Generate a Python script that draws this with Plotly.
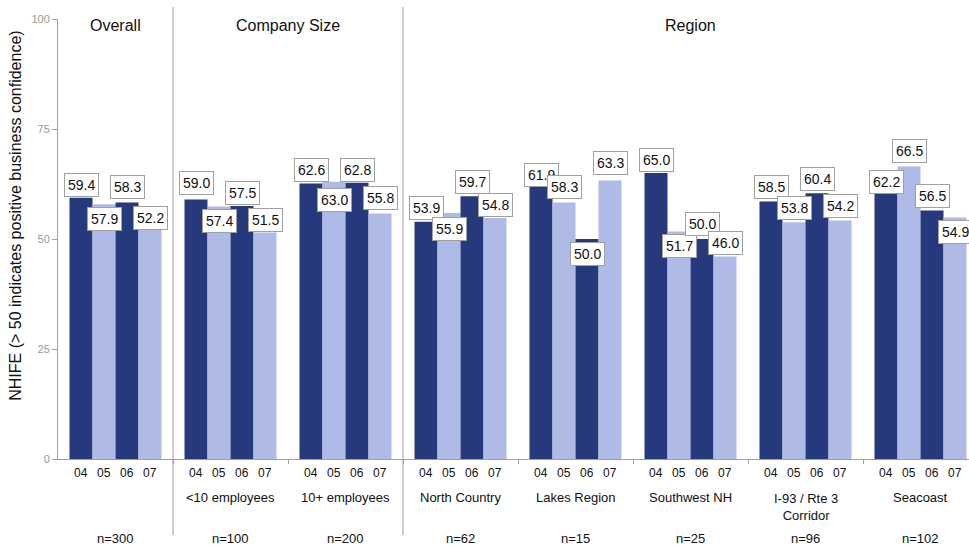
import plotly.graph_objects as go

# ---------------- data ----------------
years = ["04", "05", "06", "07"]
groups = ["", "<10 employees", "10+ employees", "North Country", "Lakes Region",
          "Southwest NH", "I-93 / Rte 3<br>Corridor", "Seacoast"]
sample_sizes = ["n=300", "n=100", "n=200", "n=62", "n=15", "n=25", "n=96", "n=102"]
sections = ["Overall", "Company Size", "Region"]

v04 = [59.4, 59.0, 62.6, 53.9, 61.9, 65.0, 58.5, 62.2]
v05 = [57.9, 57.4, 63.0, 55.9, 58.3, 51.7, 53.8, 66.5]
v06 = [58.3, 57.5, 62.8, 59.7, 50.0, 50.0, 60.4, 56.5]
v07 = [52.2, 51.5, 55.8, 54.8, 63.3, 46.0, 54.2, 54.9]
series = [v04, v05, v06, v07]

y_title = "NHIFE (> 50 indicates positive business confidence)"
y_ticks = [0, 25, 50, 75, 100]

# ---------------- layout helpers (positions / styles) ----------------
# vertical shift (px, positive = down) of each value box centre relative to bar top
label_offset_px = [
    [-13, 15, -15, -11],
    [-16, 15, -13, -12],
    [-14, 18, -13, -15],
    [-14, 16, -14, -13],
    [-12, -15, 15, -17],
    [-13, 14, -15, -14],
    [-15, -14, -14, -15],
    [-3, -15, -14, 15],
]
section_centers = [0, 1.5, 5.0]
section_dividers = [0.5, 2.5]

DARK = "#26397D"
LIGHT = "#AFBBE6"
bar_colors = [DARK, LIGHT, DARK, LIGHT]
FONT = "Liberation Sans, Arial, Helvetica, sans-serif"
GRAY = "#a0a0a0"
BW = 0.2

fig = go.Figure()
ng = len(groups)
for j, vals in enumerate(series):
    xs = [g + (j - 1.5) * BW for g in range(ng)]
    fig.add_trace(go.Bar(x=xs, y=vals, width=BW, marker_color=bar_colors[j],
                         marker_line_width=0, name=years[j], hoverinfo="skip"))

ann = []
# value boxes
for g in range(ng):
    for j, vals in enumerate(series):
        ann.append(dict(x=g + (j - 1.5) * BW, y=vals[g], xref="x", yref="y",
                        text=f"{vals[g]:.1f}", showarrow=False,
                        yanchor="middle", xanchor="center",
                        yshift=-label_offset_px[g][j],
                        font=dict(family=FONT, size=14, color="#111"),
                        bgcolor="white", bordercolor=GRAY, borderwidth=1, borderpad=3))
# year ticks
for g in range(ng):
    for j, yr in enumerate(years):
        ann.append(dict(x=g + (j - 1.5) * BW, y=-0.032, xref="x", yref="paper",
                        text=yr, showarrow=False, yanchor="middle",
                        font=dict(family=FONT, size=12, color="#111")))
# group names and sample sizes
for g in range(ng):
    if groups[g]:
        two = "<br>" in groups[g]
        ann.append(dict(x=g, y=-0.088 if not two else -0.108, xref="x", yref="paper",
                        text=groups[g], showarrow=False, yanchor="middle",
                        font=dict(family=FONT, size=13, color="#111")))
    ann.append(dict(x=g, y=-0.18, xref="x", yref="paper", text=sample_sizes[g],
                    showarrow=False, yanchor="middle",
                    font=dict(family=FONT, size=13, color="#111")))
# section titles
for s, c in zip(sections, section_centers):
    ann.append(dict(x=c, y=0.985, xref="x", yref="paper", text=s, showarrow=False,
                    yanchor="middle", font=dict(family=FONT, size=16, color="#111")))
# y title
ann.append(dict(x=-0.046, y=0.553, xref="paper", yref="paper", text=y_title,
                textangle=-90, showarrow=False, xanchor="center", yanchor="middle",
                font=dict(family=FONT, size=16, color="#111")))

shapes = [dict(type="line", xref="x", yref="paper", x0=d, x1=d, y0=1.027, y1=-0.173,
               line=dict(color=GRAY, width=1), layer="above") for d in section_dividers]

fig.update_layout(
    width=969, height=546, autosize=False,
    margin=dict(l=58, r=0, t=19, b=87),
    paper_bgcolor="white", plot_bgcolor="white",
    barmode="overlay", showlegend=False,
    annotations=ann, shapes=shapes,
    xaxis=dict(range=[-0.5, 7.5 - 9 / 115], showgrid=False, zeroline=False,
               showline=True, linecolor=GRAY, linewidth=1,
               tickvals=[i + 0.5 for i in range(ng - 1)], ticks="outside",
               ticklen=4, tickcolor=GRAY, showticklabels=False, fixedrange=True),
    yaxis=dict(range=[0, 100], showgrid=False, zeroline=False, showline=True,
               linecolor=GRAY, linewidth=1, tickvals=y_ticks, ticks="outside",
               ticklen=5, tickcolor=GRAY,
               tickfont=dict(family=FONT, size=11, color="#999999"), fixedrange=True),
    hovermode=False,
)
fig.write_html("out.html", config={"displayModeBar": False})
